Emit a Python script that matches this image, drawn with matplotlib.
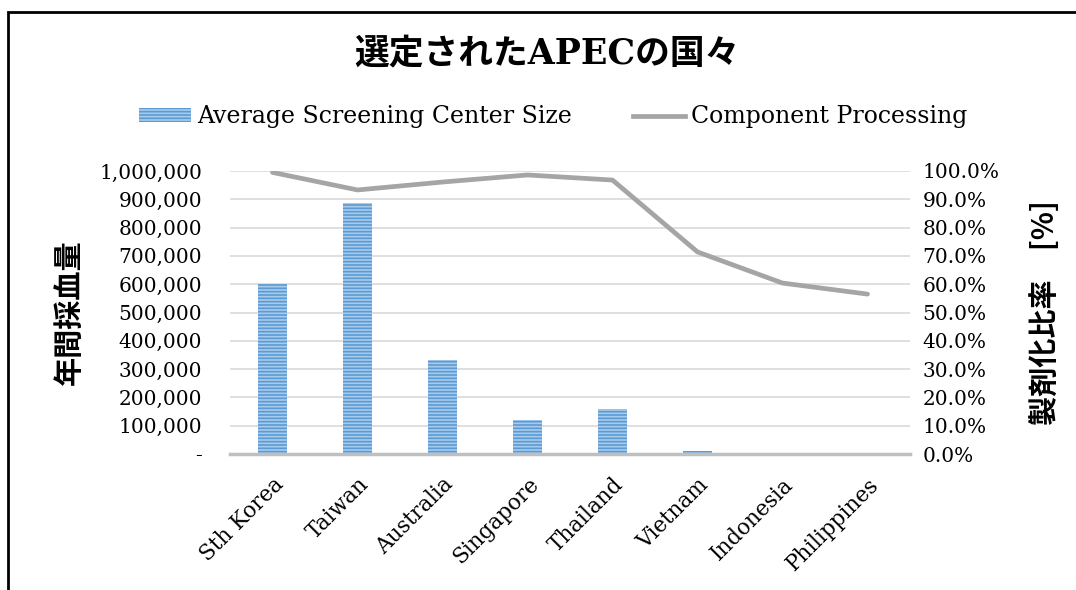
import numpy as np
import matplotlib.pyplot as plt
from matplotlib.patches import Rectangle
from matplotlib.lines import Line2D
from matplotlib.ticker import FuncFormatter, MultipleLocator

plt.rcParams['font.family'] = ['DejaVu Serif', 'Noto Sans CJK JP']
plt.rcParams['hatch.linewidth'] = 1.2

# data
countries = ['Sth Korea', 'Taiwan', 'Australia', 'Singapore', 'Thailand',
             'Vietnam', 'Indonesia', 'Philippines']
center_size = [600000, 887000, 332000, 120000, 159000, 10000, 0, 5000]
processing = [99.5, 93.3, 96.1, 98.6, 96.8, 71.4, 60.4, 56.5]

title = '選定されたAPECの国々'
left_label = '年間採血量'
right_label = '製剤化比率　[%]'

W, H = 1076, 590
fig = plt.figure(figsize=(W / 100, H / 100), dpi=100)
ax = fig.add_axes([230 / W, 1 - 454 / H, 680 / W, 283 / H])
ax2 = ax.twinx()

x = np.arange(len(countries))
ax.bar(x, center_size, width=0.33, color='#A9CBEB', edgecolor='#5B9BD5',
       hatch='-----', linewidth=0, zorder=2)
ax2.plot(x, processing, color='#A5A5A5', lw=3.4, solid_capstyle='round', zorder=3)

ax.set_xlim(-0.5, len(countries) - 0.5)
ax.set_ylim(0, 1000000)
ax2.set_ylim(0, 100)
ax.yaxis.set_major_locator(MultipleLocator(100000))
ax2.yaxis.set_major_locator(MultipleLocator(10))
ax.yaxis.set_major_formatter(FuncFormatter(lambda v, p: '-' if v == 0 else f'{v:,.0f}'))
ax2.yaxis.set_major_formatter(FuncFormatter(lambda v, p: f'{v:.1f}%'))

ax.grid(axis='y', color='#D9D9D9', lw=1.2, zorder=0)
ax.set_axisbelow(True)
for a in (ax, ax2):
    for s in ('top', 'left', 'right', 'bottom'):
        a.spines[s].set_visible(False)
    a.tick_params(length=0, labelsize=14.5, colors='#000000')
ax.tick_params(axis='y', pad=20)
ax2.tick_params(axis='y', pad=9)
ax.axhline(0, color='#BFBFBF', lw=2.5, zorder=4, clip_on=False)

ax.set_xticks(x)
ax.set_xticklabels(countries, rotation=45, ha='right', rotation_mode='anchor',
                   fontsize=15.5)
ax.tick_params(axis='x', pad=14)

ax.set_ylabel(left_label, family=['Noto Sans CJK JP'], fontsize=21,
              fontweight='bold', labelpad=11)
ax2.set_ylabel(right_label, family=['Noto Sans CJK JP', 'DejaVu Sans'], fontsize=21,
               fontweight='bold', labelpad=22, rotation=90)

fig.text(547 / W, 1 - 53 / H, title, ha='center', va='center', fontsize=25,
         fontweight='bold', family=['DejaVu Serif', 'Noto Sans CJK JP'])

handles = [Rectangle((0, 0), 1, 1, facecolor='#A9CBEB', edgecolor='#5B9BD5',
                     hatch='-----', linewidth=0),
           Line2D([0], [0], color='#A5A5A5', lw=3.4)]
fig.legend(handles, ['Average Screening Center Size', 'Component Processing'],
           loc='center', bbox_to_anchor=(553 / W, 1 - 117 / H), ncol=2,
           frameon=False, fontsize=17, handlelength=2.2, handleheight=0.55,
           columnspacing=2.6, handletextpad=0.25)

# outer frame of the chart area (cut off at right and bottom)
fig.add_artist(Rectangle((8 / W, -0.1), 1.2, 1 - 12 / H + 0.1,
                         transform=fig.transFigure, fill=False,
                         edgecolor='black', lw=2))

fig.savefig('out.png', dpi=100)
